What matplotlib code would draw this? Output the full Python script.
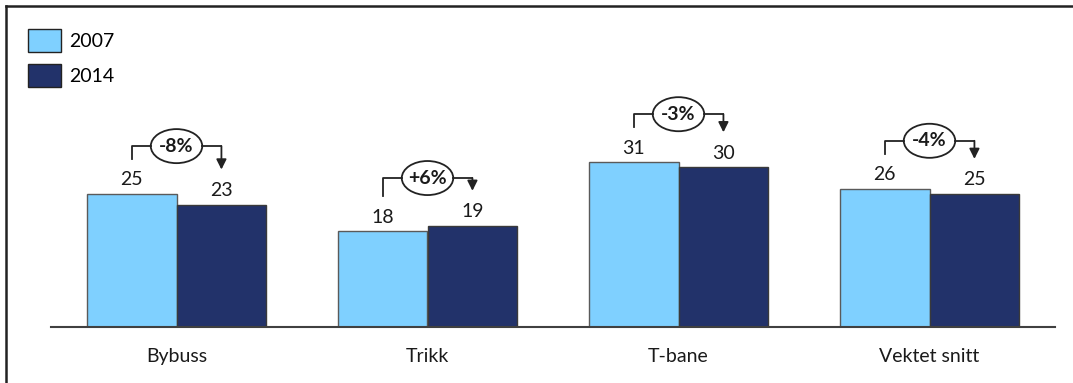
import matplotlib.pyplot as plt
import numpy as np
from matplotlib.patches import Ellipse, Patch
from matplotlib.lines import Line2D

plt.rcParams['font.family'] = ['Lato', 'DejaVu Sans']

categories = ["Bybuss", "Trikk", "T-bane", "Vektet snitt"]
years = ["2007", "2014"]
v2007 = [25, 18, 31, 26]
v2014 = [23, 19, 30, 25]
changes = ["-8%", "+6%", "-3%", "-4%"]

light = "#7fd0ff"
dark = "#22326a"

W, H = 1073, 383
fig = plt.figure(figsize=(W / 100, H / 100), dpi=100)
ax = fig.add_axes([51 / W, 56 / H, 1004 / W, 319.2 / H])

x = np.arange(len(categories))
bw = 0.358
b1 = ax.bar(x - bw / 2, v2007, bw, color=light, edgecolor="#5a5a5a", linewidth=1, label=years[0])
b2 = ax.bar(x + bw / 2, v2014, bw, color=dark, edgecolor="#3a3a3a", linewidth=1, label=years[1])

for bars in (b1, b2):
    for r in bars:
        ax.annotate(f"{r.get_height():g}", (r.get_x() + r.get_width() / 2, r.get_height()),
                    xytext=(0, 4), textcoords="offset points", ha="center", va="bottom",
                    fontsize=14, color="#1a1a1a")

# change brackets: from the 2007 bar over an oval to an arrow onto the 2014 bar
for i, (a, b, lbl) in enumerate(zip(v2007, v2014, changes)):
    xl, xr = i - bw / 2, i + bw / 2
    top = max(a, b) + 9
    ew, eh = 0.205, 6.4
    ax.plot([xl, xl, i - ew / 2], [a + 6.6, top, top], color="#222222", lw=1.3, clip_on=False)
    ax.plot([i + ew / 2, xr], [top, top], color="#222222", lw=1.3, clip_on=False)
    ax.annotate("", xy=(xr, b + 6.6), xytext=(xr, top),
                arrowprops=dict(arrowstyle="-|>", color="#222222", lw=1.3,
                                mutation_scale=15, shrinkA=0, shrinkB=0))
    ax.add_patch(Ellipse((i, top), ew, eh, facecolor="white", edgecolor="#222222",
                         lw=1.3, clip_on=False))
    ax.text(i, top, lbl, ha="center", va="center", fontsize=14, fontweight="bold",
            color="#1a1a1a")

ax.set_xlim(-0.5, 3.5)
ax.set_ylim(0, 60)
ax.set_xticks(x)
ax.set_xticklabels(categories, fontsize=14, color="#1a1a1a")
ax.tick_params(axis="x", length=0, pad=15)
ax.set_yticks([])
for s in ("top", "left", "right"):
    ax.spines[s].set_visible(False)
ax.spines["bottom"].set_color("#404040")
ax.spines["bottom"].set_linewidth(1.5)

handles = [Patch(facecolor=light, edgecolor="#222222", lw=1),
           Patch(facecolor=dark, edgecolor="#222222", lw=1)]
ax.legend(handles, years, loc="upper left", bbox_to_anchor=(28 / W, 1 - 29 / H),
          bbox_transform=fig.transFigure, frameon=False, borderaxespad=0, borderpad=0,
          fontsize=14, handlelength=1.7, handleheight=1.45, handletextpad=0.4,
          labelspacing=0.6)

# outer frame lines along the top and left edges
fig.add_artist(Line2D([5.5 / W, 1], [1 - 5.5 / H, 1 - 5.5 / H], color="#222222", lw=1.8))
fig.add_artist(Line2D([5.5 / W, 5.5 / W], [0, 1 - 5.5 / H], color="#222222", lw=1.8))

fig.savefig("out.png", dpi=100, facecolor="white")
